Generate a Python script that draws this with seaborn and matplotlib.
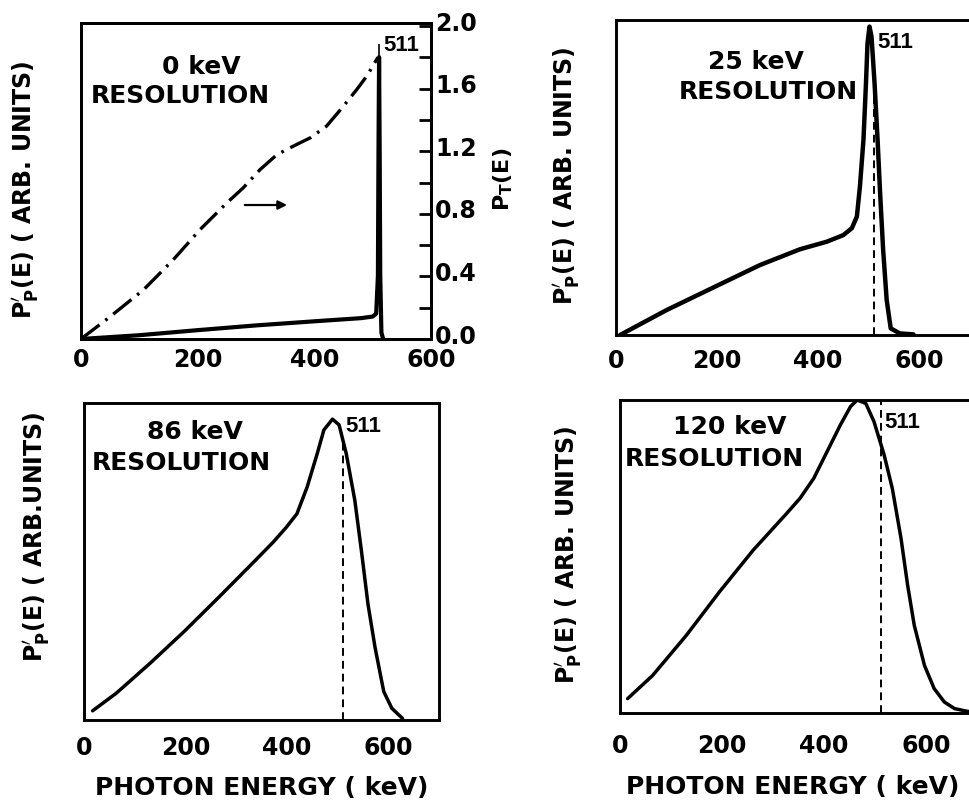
import numpy as np
import pandas as pd
import matplotlib
matplotlib.use("Agg")
import matplotlib.pyplot as plt
import matplotlib.transforms as mtransforms
import seaborn as sns
from matplotlib.ticker import FixedLocator, FormatStrFormatter

sns.set_style("white")
plt.rcParams["font.family"] = ["DejaVu Sans"]
plt.rcParams["font.weight"] = "bold"
plt.rcParams["mathtext.fontset"] = "dejavusans"
plt.rcParams["axes.linewidth"] = 2.1
plt.rcParams["axes.edgecolor"] = "black"
plt.rcParams["text.color"] = "black"
plt.rcParams["axes.labelcolor"] = "black"
plt.rcParams["xtick.color"] = "black"
plt.rcParams["ytick.color"] = "black"

# ---- panel (a): 0 keV resolution -------------------------------------
p1_energy = [0, 50, 100, 200, 300, 400, 480, 500, 506, 509, 510, 511, 512, 513, 515, 518]
p1_pp = [0, 0.006, 0.012, 0.028, 0.043, 0.056, 0.066, 0.071, 0.08, 0.2, 0.6, 0.892, 0.6, 0.2, 0.02, 0.0]
p1_total_energy = [0, 50, 107, 158, 204, 250, 278, 307, 336, 364, 393, 421, 450, 473, 490, 507, 509]
p1_total = [0, 0.143, 0.314, 0.506, 0.699, 0.870, 0.966, 1.083, 1.179, 1.233, 1.286, 1.361,
            1.489, 1.596, 1.681, 1.788, 1.80]

# ---- panel (b): 25 keV resolution ------------------------------------
p2_energy = [8, 100, 193, 285, 364, 417, 450, 467, 477, 483, 490, 495, 498, 502, 506,
             512, 518, 523, 529, 536, 544, 562, 589]
p2_pp = [0, 0.079, 0.151, 0.222, 0.272, 0.296, 0.317, 0.339, 0.376, 0.471, 0.619, 0.799,
         0.926, 0.979, 0.947, 0.799, 0.619, 0.450, 0.270, 0.111, 0.021, 0.005, 0.002]

# ---- panel (c): 86 keV resolution ------------------------------------
p3_energy = [17, 64, 131, 198, 265, 332, 373, 399, 420, 440, 460, 473, 490, 503, 517,
             534, 547, 560, 574, 591, 607, 628]
p3_pp = [0.029, 0.085, 0.180, 0.280, 0.386, 0.494, 0.561, 0.608, 0.651, 0.735, 0.841,
         0.915, 0.949, 0.931, 0.841, 0.693, 0.534, 0.365, 0.228, 0.090, 0.037, 0.005]

# ---- panel (d): 120 keV resolution -----------------------------------
p4_energy = [15, 64, 130, 195, 261, 327, 353, 380, 406, 432, 452, 465, 482, 498, 518,
             534, 551, 564, 577, 597, 616, 636, 656, 682, 700]
p4_pp = [0.046, 0.120, 0.248, 0.387, 0.520, 0.638, 0.686, 0.750, 0.835, 0.920, 0.979,
         1.0, 0.989, 0.931, 0.824, 0.717, 0.558, 0.408, 0.280, 0.152, 0.078, 0.035,
         0.014, 0.005, 0.004]

annihilation_line = 511
resolutions = ["0 keV", "25 keV", "86 keV", "120 keV"]
energy_ticks = [0, 200, 400, 600]
total_ticks = [0.0, 0.4, 0.8, 1.2, 1.6, 2.0]

W, H = 969, 802
fig = plt.figure(figsize=(W / 100, H / 100), dpi=100)


def rect(left, right, top, bottom):
    return [left / W, 1 - bottom / H, (right - left) / W, (bottom - top) / H]


ax1 = fig.add_axes(rect(81, 431, 23, 339))
ax2 = fig.add_axes(rect(616, 969.5, 20, 335))
ax3 = fig.add_axes(rect(84, 439, 403, 720))
ax4 = fig.add_axes(rect(620, 977, 400, 713))

LW = 2.5
tick_kw = dict(direction="in", length=7, width=2, colors="black", labelsize=17)

frames = [
    pd.DataFrame({"E": p1_energy, "P": p1_pp}),
    pd.DataFrame({"E": p2_energy, "P": p2_pp}),
    pd.DataFrame({"E": p3_energy, "P": p3_pp}),
    pd.DataFrame({"E": p4_energy, "P": p4_pp}),
]
axes = [ax1, ax2, ax3, ax4]
xmax = [600, 700, 700, 700]
tick_pads = [6.5, 10, 11.5, 15]

for ax, df, xm, pad in zip(axes, frames, xmax, tick_pads):
    sns.lineplot(data=df, x="E", y="P", ax=ax, color="black", linewidth=LW,
                 sort=False, estimator=None)
    ax.set_xlim(0, xm)
    ax.set_ylim(0, 1.0)
    ax.xaxis.set_major_locator(FixedLocator(energy_ticks))
    ax.set_xticklabels([str(t) for t in energy_ticks])
    ax.set_yticks([])
    ax.tick_params(axis="x", pad=pad, **tick_kw)
    ax.set_xlabel("")
    for s in ax.spines.values():
        s.set_linewidth(2.1)

# spike thickness in the 0 keV and 25 keV panels
ax1.lines[0].set_linewidth(3.0)
ax2.lines[0].set_linewidth(3.2)
for ax in axes:
    ax.lines[0].set_solid_joinstyle("round")

# 511 keV reference marks
ax1.vlines(annihilation_line, 0.892, 0.935, color="black", linewidth=1.2)
dash_kw = dict(color="black", linewidth=1.4, linestyle=(0, (4, 2.6)))
ax2.vlines(annihilation_line, 0, np.interp(annihilation_line, p2_energy, p2_pp), **dash_kw)
ax3.vlines(annihilation_line, 0, np.interp(annihilation_line, p3_energy, p3_pp), **dash_kw)
ax4.vlines(annihilation_line, 0, 1.0, **dash_kw)

# total spectrum on the right-hand scale of panel (a)
axr = ax1.twinx()
sns.lineplot(x=p1_total_energy, y=p1_total, ax=axr, color="black", linewidth=2.4,
             sort=False, estimator=None, linestyle=(0, (7, 2.2, 0.8, 2.2)))
axr.set_ylim(0, 2.02)
axr.yaxis.set_major_locator(FixedLocator(total_ticks))
axr.yaxis.set_minor_locator(FixedLocator([0.2, 0.6, 1.0, 1.4, 1.8]))
axr.yaxis.set_major_formatter(FormatStrFormatter("%.1f"))
axr.tick_params(axis="y", which="both", direction="in", length=9, width=2,
                colors="black", labelsize=17, pad=3)
lift = mtransforms.ScaledTranslation(0, 5 / 100, fig.dpi_scale_trans)
for lab in axr.get_yticklabels():
    lab.set_transform(lab.get_transform() + lift)
axr.set_ylabel(r"$\mathbf{P}_{\mathbf{T}}$(E)", fontsize=16, fontweight="bold",
               rotation=90)
axr.yaxis.label.set(va="center", ha="center")
axr.yaxis.set_label_coords((503 - 81) / 350, 1 - (179 - 23) / 316)
ax1.annotate("", xy=(358, 0.424), xytext=(276, 0.424),
             arrowprops=dict(arrowstyle="-|>", color="black", lw=1.6, mutation_scale=13))

# panel texts
txt = dict(fontsize=18, fontweight="bold", color="black", ha="center", va="center")
lbl = dict(fontsize=16, fontweight="bold", color="black", ha="left", va="center",
           family=["Liberation Sans", "DejaVu Sans"])
ax1.text(206, 0.86, resolutions[0], **txt)
ax1.text(170, 0.77, "RESOLUTION", **txt)
ax1.text(518, 0.93, "511", **lbl)

ax2.text(277, 0.867, resolutions[1], **txt)
ax2.text(301, 0.771, "RESOLUTION", **txt)
ax2.text(517, 0.927, "511", **lbl)

ax3.text(218, 0.909, resolutions[2], **txt)
ax3.text(191, 0.812, "RESOLUTION", **txt)
ax3.text(515, 0.925, "511", **lbl)

ax4.text(216, 0.914, resolutions[3], **txt)
ax4.text(184, 0.81, "RESOLUTION", **txt)
ax4.text(518, 0.927, "511", **lbl)

# axis titles
ylab = r"$\mathbf{P}^{\prime}_{\mathbf{P}}$(E) ( ARB. UNITS)"
ylab3 = r"$\mathbf{P}^{\prime}_{\mathbf{P}}$(E) ( ARB.UNITS)"
ylabel_pos = [
    ((26 - 81) / 350, 1 - (190 - 23) / 316),
    ((567 - 616) / 353.5, 1 - (176 - 20) / 315),
    ((37 - 84) / 355, 1 - (537 - 403) / 317),
    ((569 - 620) / 357, 1 - (555 - 400) / 313),
]
for ax, text, pos in zip(axes, [ylab, ylab, ylab3, ylab], ylabel_pos):
    ax.set_ylabel(text, fontsize=17, fontweight="bold")
    ax.yaxis.label.set(va="center", ha="center")
    ax.yaxis.set_label_coords(*pos)

for ax, pos in [(ax3, ((262 - 84) / 355, (720 - 788) / 317)),
                (ax4, ((793 - 620) / 357, (713 - 787) / 313))]:
    ax.set_xlabel("PHOTON ENERGY ( keV)", fontsize=18, fontweight="bold")
    ax.xaxis.label.set(va="center")
    ax.xaxis.set_label_coords(*pos)

fig.savefig("out.png", dpi=100, facecolor="white")
